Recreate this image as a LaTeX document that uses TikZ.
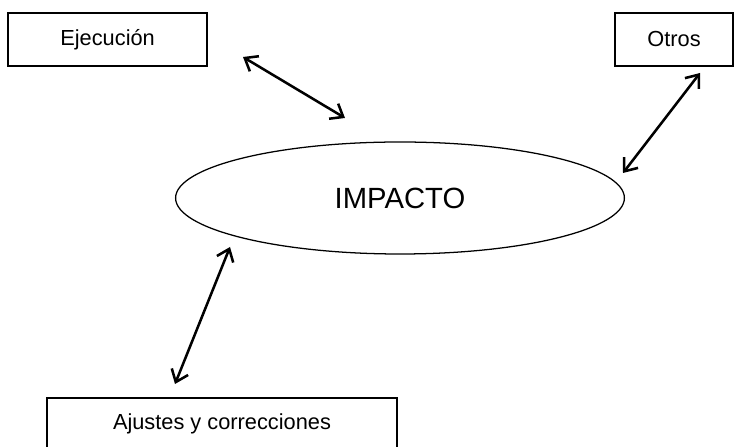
\documentclass[tikz,border=0pt]{standalone}
\usepackage{fontspec}
\setmainfont{Liberation Sans}
\usepackage{tikz}
\usetikzlibrary{arrows.meta, shapes.geometric}

\tikzset{
  box/.style={draw, line width=1.2pt, inner sep=0pt, font=\fontsize{15.5}{18}\selectfont},
  oval/.style={draw, ellipse, line width=0.9pt, inner sep=0pt, minimum width=11.22cm, minimum height=2.8cm, font=\fontsize{20.8}{24}\selectfont},
  link/.style={line width=1.8pt, {Straight Barb[length=2.8mm,width=4.4mm]}-{Straight Barb[length=2.8mm,width=4.4mm]}}
}

\begin{document}
\begin{tikzpicture}
\useasboundingbox (0,0) rectangle (18.5,11.175);
\node[box, minimum width=4.975cm, minimum height=1.325cm] (ejec) at (2.69,10.19) {Ejecuci\'on\hspace{0.35cm}};
\node[box, minimum width=2.95cm, minimum height=1.325cm] (otros) at (16.85,10.19) {Otros};
\node[oval] (impacto) at (10.0,6.225) {IMPACTO};
\node[box, minimum width=8.75cm, minimum height=1.3cm] (ajustes) at (5.55,0.575) {Ajustes y correcciones\hspace{0.3cm}};
% extremos de las flechas
\coordinate (e1) at (6.075,9.75);
\coordinate (i1) at (8.625,8.225);
\coordinate (o1) at (17.5,9.35);
\coordinate (i2) at (15.575,6.85);
\coordinate (i3) at (5.75,5.0);
\coordinate (a1) at (4.375,1.575);
\draw[link] (e1)--(i1);
\draw[link] (o1)--(i2);
\draw[link] (i3)--(a1);
\end{tikzpicture}
\end{document}
